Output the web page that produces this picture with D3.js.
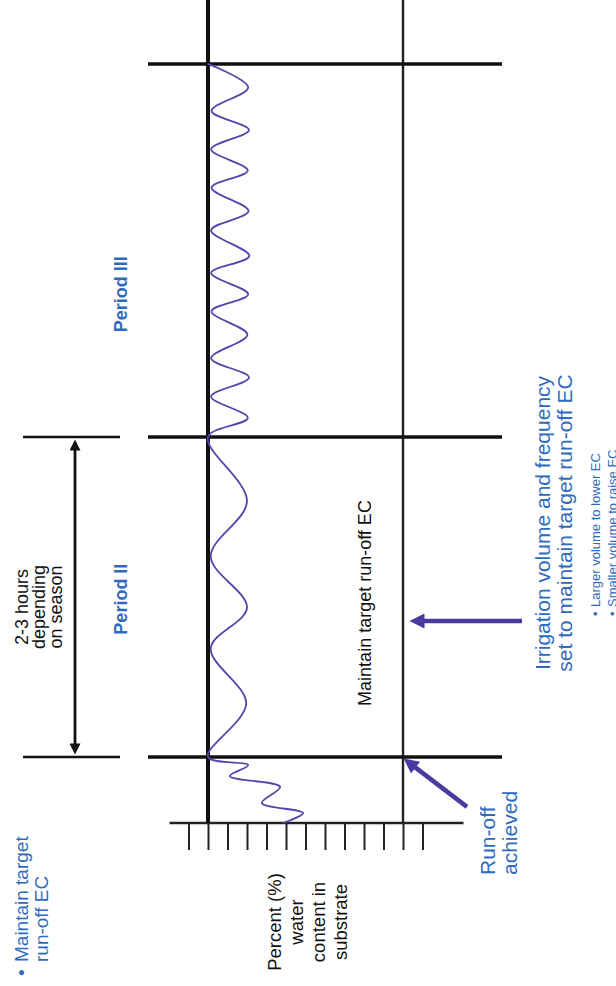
<!DOCTYPE html>
<html>
<head>
<meta charset="utf-8">
<script src="https://cdn.jsdelivr.net/npm/d3@7"></script>
<style>
  html, body { margin: 0; padding: 0; background: #fff; }
  svg { display: block; }
  text { font-family: "Liberation Sans", Arial, Helvetica, sans-serif; }
</style>
</head>
<body>
<div id="chart"></div>
<script>
// Time is in minutes from the start of period I, water content in %
const periodBounds = [31, 181, 356]
const periodNames = ["Period II", "Period III"]
const periodNameTimes = [105, 248]
const waterTicks = [65, 60, 55, 50, 45, 40, 35, 30, 25, 20, 15, 10, 5]
const upperLevel = 60
const lowerLevel = 10

// Substrate water content trace (period I, II, III)
const waveTime = [0, 4.7, 9.4, 16.9, 22, 27.2, 31,
    56, 82, 101, 125, 151, 181,
    190, 200, 209, 218, 229, 240, 248, 258, 266, 278, 287, 298, 306, 316, 325, 334, 345, 356]
const waveWater = [40.8, 35.6, 46.2, 41.5, 54.4, 49.7, 60,
    50.2, 59.3, 50.0, 59.3, 50.0, 60,
    49.8, 59.2, 49.5, 59.2, 49.9, 59.1, 49.7, 59.2, 49.4, 59.2, 49.6, 59.1, 49.8, 59.2, 49.5, 59.1, 49.7, 60]

const width = 616
const height = 986
const blue = "#2e6bbf"
const purple = "#5646ab"
const arrowPurple = "#4a3a9f"

const svg = d3.select("#chart")
              .append("svg")
              .attr("width", width)
              .attr("height", height)

// markers
const defs = svg.append("defs")
function addMarker(id, color, w, h) {
    defs.append("marker")
        .attr("id", id)
        .attr("viewBox", "0 0 10 10")
        .attr("refX", 3)
        .attr("refY", 5)
        .attr("markerUnits", "userSpaceOnUse")
        .attr("markerWidth", w)
        .attr("markerHeight", h)
        .attr("orient", "auto-start-reverse")
        .append("path")
        .attr("d", "M0,0 L10,5 L0,10 z")
        .attr("fill", color)
}
addMarker("head-black", "#111", 13, 11)
addMarker("head-purple", arrowPurple, 16, 15)

// The chart is drawn in its own frame (time to the right) and turned a quarter turn
const g = svg.append("g")
             .attr("transform", `translate(0, ${height}) rotate(-90)`)

const x = d3.scaleLinear().domain([0, 386]).range([163, 986])
const y = d3.scaleLinear().domain([65, 5]).range([188.5, 422.5])

// axis with ticks, no labels
const axis = g.append("g")
              .attr("transform", `translate(${x(0)}, 0)`)
              .call(d3.axisLeft(y).tickValues(waterTicks).tickSize(27).tickFormat(""))
axis.select(".domain").remove()
axis.selectAll(".tick line").attr("stroke", "#222").attr("stroke-width", 2)

g.append("line")
 .attr("x1", x(0)).attr("x2", x(0))
 .attr("y1", y.range()[0] - 19).attr("y2", y.range()[1] + 41)
 .attr("stroke", "#222").attr("stroke-width", 2.4)

// water content levels
g.append("line")
 .attr("x1", x(0)).attr("x2", x(386))
 .attr("y1", y(upperLevel)).attr("y2", y(upperLevel))
 .attr("stroke", "#111").attr("stroke-width", 4)

g.append("line")
 .attr("x1", x(0)).attr("x2", x(386))
 .attr("y1", y(lowerLevel)).attr("y2", y(lowerLevel))
 .attr("stroke", "#222").attr("stroke-width", 2.4)

// period boundaries
g.selectAll(".period-line")
 .data(periodBounds)
 .join("line")
 .attr("class", "period-line")
 .attr("x1", d => x(d)).attr("x2", d => x(d))
 .attr("y1", 148).attr("y2", 502)
 .attr("stroke", "#111").attr("stroke-width", 3.5)

// bracket for the length of period II
g.selectAll(".bracket")
 .data(periodBounds.slice(0, 2))
 .join("line")
 .attr("class", "bracket")
 .attr("x1", d => x(d)).attr("x2", d => x(d))
 .attr("y1", 23).attr("y2", 120)
 .attr("stroke", "#111").attr("stroke-width", 2.5)

g.append("line")
 .attr("x1", x(periodBounds[0]) + 10).attr("x2", x(periodBounds[1]) - 10)
 .attr("y1", 75).attr("y2", 75)
 .attr("stroke", "#111").attr("stroke-width", 2.8)
 .attr("marker-start", "url(#head-black)")
 .attr("marker-end", "url(#head-black)")

// wave
const waveData = waveTime.map((t, i) => ({t: t, w: waveWater[i]}))
const line = d3.line()
               .x(d => x(d.t))
               .y(d => y(d.w))
               .curve(d3.curveCatmullRom.alpha(0.5))
g.append("path")
 .datum(waveData)
 .attr("d", line)
 .attr("fill", "none")
 .attr("stroke", purple)
 .attr("stroke-width", 1.8)
 .attr("stroke-linejoin", "round")

// arrows
g.append("line")
 .attr("x1", x(periodBounds[0]) - 50).attr("y1", y(lowerLevel) + 64)
 .attr("x2", x(periodBounds[0]) - 8).attr("y2", y(lowerLevel) + 9)
 .attr("stroke", arrowPurple).attr("stroke-width", 4.5)
 .attr("marker-end", "url(#head-purple)")

g.append("line")
 .attr("x1", 365).attr("y1", 522)
 .attr("x2", 365).attr("y2", y(lowerLevel) + 17)
 .attr("stroke", arrowPurple).attr("stroke-width", 4.5)
 .attr("marker-end", "url(#head-purple)")

// texts
function addText(lines, u, v0, dv, size, color, anchor, weight) {
    const t = g.append("text")
               .attr("font-size", size)
               .attr("fill", color)
               .attr("text-anchor", anchor)
               .attr("font-weight", weight || "normal")
    lines.forEach((s, i) => {
        t.append("tspan").attr("x", u).attr("y", v0 + i * dv).text(s)
    })
    return t
}

periodNames.forEach((name, i) => {
    addText([name], x(periodNameTimes[i]), 127, 0, 18, blue, "middle", "bold")
})

addText(["2-3 hours", "depending", "on season"], 379, 28, 17, 18, "#111", "middle")
addText(["Maintain target run-off EC"], 383, 371, 0, 18, "#111", "middle")
addText(["Irrigation volume and frequency", "set to maintain target run-off EC"], 463, 550, 21.5, 21, blue, "middle")
addText(["•", "•"], 370, 600, 17, 13, blue, "start")
addText(["Larger volume to lower EC", "Smaller volume to raise EC"], 379, 600, 17, 13, blue, "start")
addText(["Run-off", "achieved"], 111, 495, 22, 21, blue, "start")
addText(["Percent (%)", "water", "content in", "substrate"], 64, 281, 22, 18.5, "#111", "middle")
addText(["•"], 10, 28, 0, 19, blue, "start")
addText(["Maintain target", "run-off EC"], 24, 28, 19.5, 19, blue, "start")
</script>
</body>
</html>
